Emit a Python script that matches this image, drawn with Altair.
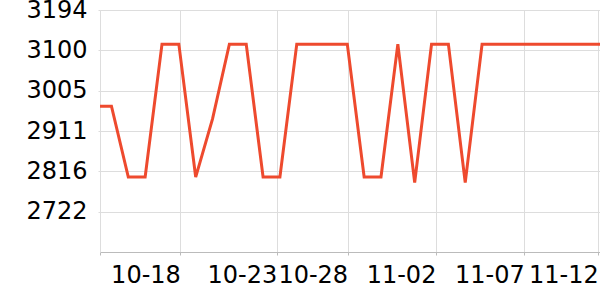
import json
import altair as alt
import pandas as pd

# Data
dates = ["10-13", "10-14", "10-15", "10-16", "10-17", "10-18", "10-19", "10-20",
         "10-21", "10-22", "10-23", "10-24", "10-25", "10-26", "10-27", "10-28",
         "10-29", "10-30", "10-31", "11-01", "11-02", "11-03", "11-04", "11-05",
         "11-06", "11-07", "11-08", "11-09", "11-10", "11-11", "11-12"]
values = [2969, 2969, 2803, 2803, 3114, 3114, 2803, 2939,
          3114, 3114, 2803, 2803, 3114, 3114, 3114, 3114,
          2803, 2803, 3114, 2790, 3114, 3114, 2790, 3114,
          3114, 3114, 3114, 3114, 3114, 3114, 3114]

x_tick_pos = [0.32, 5.09, 10.81, 15.02, 20.26, 25.50, 29.9]
x_tick_labels = ["", "10-18", "10-23", "10-28", "11-02", "11-07", "11-12"]
y_ticks = [2722.0, 2816.4, 2910.8, 3005.2, 3099.6, 3194.0]
y_domain = [2627.6, 3194.0]
x_domain = [0.32, 30.0]

df = pd.DataFrame({"i": list(range(len(dates))), "date": dates, "value": values})

label_expr = json.dumps(x_tick_labels) + "[indexof(" + json.dumps(x_tick_pos) + ", datum.value)]"

chart = alt.Chart(df).mark_line(color="#ee4a2e", strokeWidth=3, clip=True).encode(
    x=alt.X("i:Q", scale=alt.Scale(domain=x_domain, nice=False, zero=False),
            axis=alt.Axis(values=x_tick_pos, labelExpr=label_expr, title=None,
                          labelAlign="right", labelBaseline="top",
                          labelFontSize=24, labelFont="DejaVu Sans", labelColor="#000",
                          labelPadding=8, tickSize=3, tickColor="#bbb",
                          domainColor="#bbb", gridColor="#ddd", grid=True,
                          labelOverlap=False, labelBound=False, labelFlush=False)),
    y=alt.Y("value:Q", scale=alt.Scale(domain=y_domain, nice=False, zero=False),
            axis=alt.Axis(values=y_ticks, format=".0f", title=None,
                          labelFontSize=24, labelFont="DejaVu Sans", labelColor="#000",
                          labelPadding=11, tickSize=2, tickColor="#ddd",
                          domainColor="#ddd", gridColor="#ddd", grid=True,
                          labelOverlap=False, labelBound=False, labelFlush=False)),
).properties(
    width=500, height=242,
    autosize=alt.AutoSizeParams(type="none"),
    padding={"left": 100, "top": 10, "right": 0, "bottom": 48},
).configure_view(stroke=None)

chart.save("out.html", embed_options={"renderer": "svg", "actions": False})
